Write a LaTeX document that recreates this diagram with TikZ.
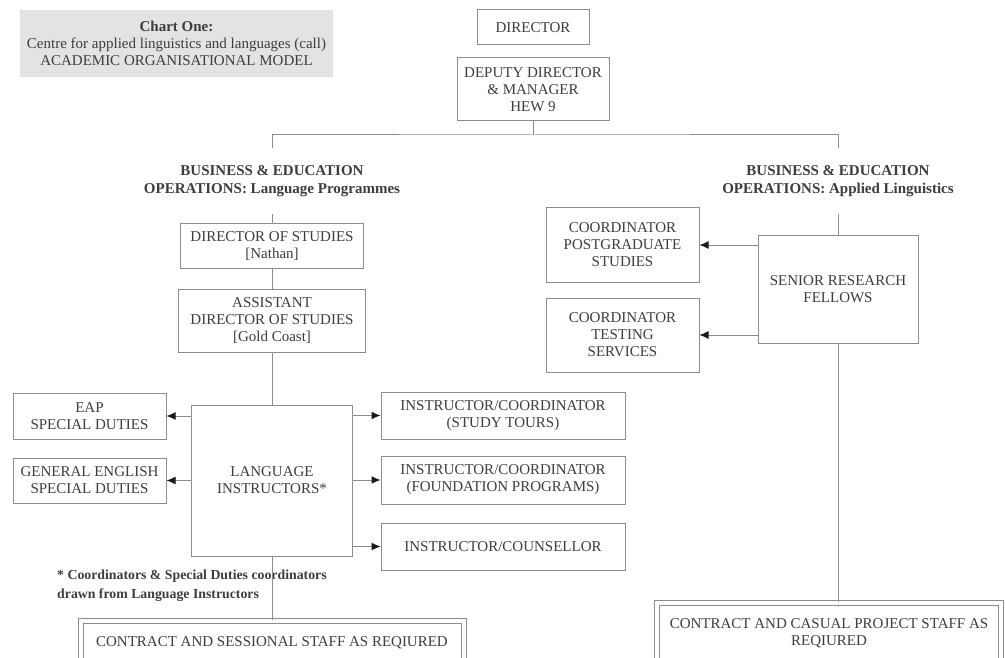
\documentclass[tikz,border=0pt]{standalone}
\usepackage{fontspec}
\setmainfont{Liberation Serif}
\usetikzlibrary{arrows.meta}
\definecolor{linegray}{HTML}{8C8C8C}
\definecolor{inkgray}{HTML}{3D3D3D}
\definecolor{tipblack}{HTML}{1A1A1A}
\definecolor{titlegray}{HTML}{E3E3E3}

\begin{document}
\begin{tikzpicture}[x=1pt,y=-1pt,
    post/.style={draw=linegray, line width=1pt, text=inkgray, align=center, inner sep=0pt,
        font=\fontsize{15}{17}\selectfont},
    heading/.style={text=inkgray, align=center, inner sep=0pt, minimum height=66pt,
        font=\bfseries\fontsize{15}{18.5}\selectfont},
    staff/.style={post, double=white, double distance=4pt, anchor=north},
    link/.style={draw=linegray, line width=1pt},
    duty/.style={link, -{Latex[length=9pt,width=8pt,color=tipblack]}}]

    \useasboundingbox (0,0) rectangle (1005,658);

    \node[post, draw=none, fill=titlegray, minimum width=313pt, minimum height=67pt] (title) at (176.5,43.5)
        {\textbf{Chart One:}\\Centre for applied linguistics and languages (call)\\ACADEMIC ORGANISATIONAL MODEL};

    \node[post, minimum width=112pt, minimum height=35pt] (director) at (533,27.5) {DIRECTOR};
    \node[post, minimum width=152pt, minimum height=63pt] (deputy) at (533,89.5) {DEPUTY DIRECTOR\\\& MANAGER\\HEW 9};

    \node[heading] (langops) at (272,181) {BUSINESS \& EDUCATION\\OPERATIONS: Language Programmes};
    \node[heading] (lingops) at (838,181) {BUSINESS \& EDUCATION\\OPERATIONS: Applied Linguistics};

    \node[post, minimum width=183pt, minimum height=44pt] (studies) at (272,246) {DIRECTOR OF STUDIES\\{[}Nathan{]}};
    \node[post, minimum width=187pt, minimum height=63pt] (assistant) at (272,320.5) {ASSISTANT\\DIRECTOR OF STUDIES\\{[}Gold Coast{]}};
    \node[post, minimum width=161pt, minimum height=151pt] (instructors) at (272,480.5) {LANGUAGE\\INSTRUCTORS*};

    \node[post, minimum width=153pt, minimum height=46pt] (eap) at (89.5,416) {EAP\\SPECIAL DUTIES};
    \node[post, minimum width=153pt, minimum height=45pt] (general) at (89.5,480.5) {GENERAL ENGLISH\\SPECIAL DUTIES};

    \node[post, minimum width=244pt, minimum height=47pt] (tours) at (503,415.5) {INSTRUCTOR/COORDINATOR\\(STUDY TOURS)};
    \node[post, minimum width=244pt, minimum height=48pt] (foundation) at (503,480) {INSTRUCTOR/COORDINATOR\\(FOUNDATION PROGRAMS)};
    \node[post, minimum width=244pt, minimum height=47pt] (counsellor) at (503,546.5) {INSTRUCTOR/COUNSELLOR};

    \node[post, minimum width=153pt, minimum height=74pt] (postgrad) at (622.5,245) {COORDINATOR\\POSTGRADUATE\\STUDIES};
    \node[post, minimum width=153pt, minimum height=74pt] (testing) at (622.5,335) {COORDINATOR\\TESTING\\SERVICES};
    \node[post, minimum width=160pt, minimum height=107pt] (fellows) at (838,289.5) {SENIOR RESEARCH\\FELLOWS};

    \node[anchor=north west, align=left, inner sep=0pt, text=inkgray, font=\bfseries\fontsize{13.8}{19}\selectfont] (footnote) at (57,570)
        {* Coordinators \& Special Duties coordinators\\drawn from Language Instructors};

    \node[staff, minimum width=383pt, minimum height=44pt] (sessional) at (272,620) {CONTRACT AND SESSIONAL STAFF AS REQIURED};
    \node[staff, minimum width=343.5pt, minimum height=61pt] (casual) at (829,602) {CONTRACT AND CASUAL PROJECT STAFF AS\\REQIURED};

    \coordinate (split) at (533,135);
    \draw[link] (deputy) -- (split);
    \draw[link] (langops.north) |- (split) -| (lingops.north);

    \draw[link] (langops) -- (studies);
    \draw[link] (studies) -- (assistant);
    \draw[link] (assistant) -- (instructors);
    \draw[link] (instructors.south) -- (instructors.south |- sessional.north);

    \draw[duty] (instructors.west |- eap.east) -- (eap.east);
    \draw[duty] (instructors.west |- general.east) -- (general.east);
    \draw[duty] (instructors.east |- tours.west) -- (tours.west);
    \draw[duty] (instructors.east |- foundation.west) -- (foundation.west);
    \draw[duty] (instructors.east |- counsellor.west) -- (counsellor.west);

    \draw[link] (lingops) -- (fellows);
    \draw[duty] (fellows.west |- postgrad.east) -- (postgrad.east);
    \draw[duty] (fellows.west |- testing.east) -- (testing.east);
    \draw[link] (fellows.south) -- (fellows.south |- casual.north);

\end{tikzpicture}
\end{document}
